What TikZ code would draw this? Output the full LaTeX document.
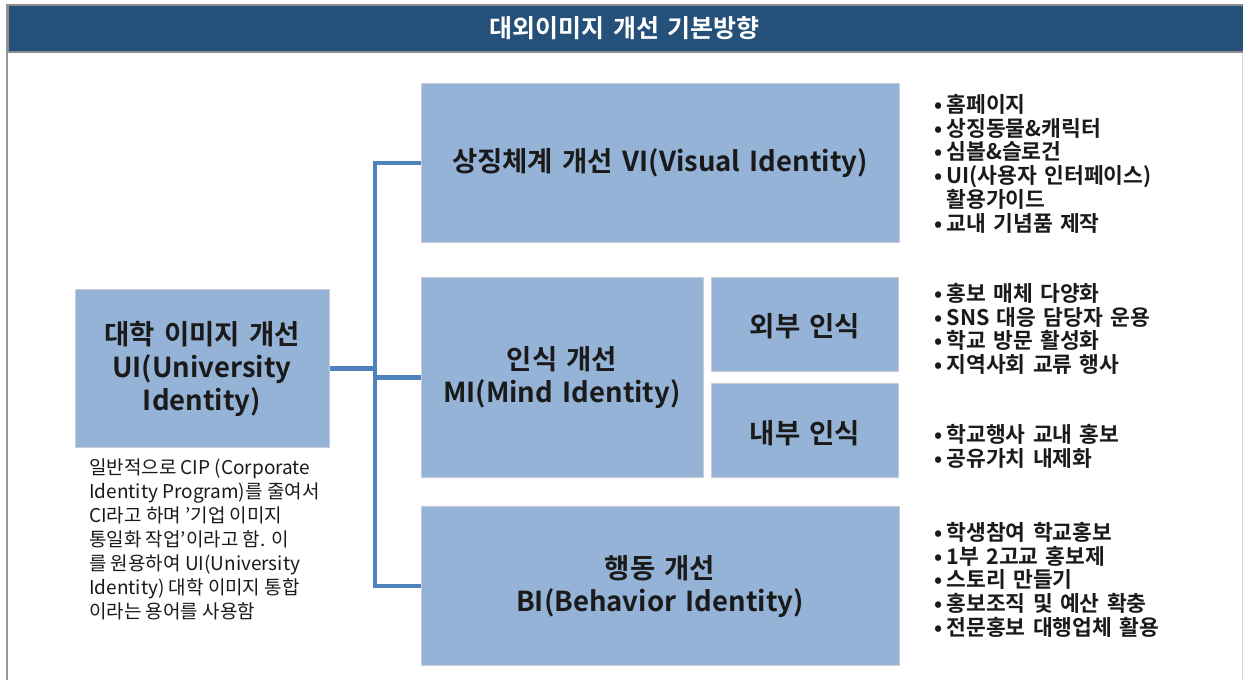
\documentclass[tikz,border=0pt]{standalone}
\usepackage{fontspec}
\setmainfont{Noto Sans CJK KR}
\newfontfamily\krb[WordSpace=1.5]{Noto Sans CJK KR Bold}
\definecolor{hdr}{HTML}{24507A}
\definecolor{boxfill}{HTML}{95B3D7}
\definecolor{boxline}{HTML}{C9CED6}
\definecolor{conncol}{HTML}{4F81BD}
\definecolor{txt}{HTML}{1A1A1A}
\newcommand{\bul}{•\hspace{0.2em}}
\begin{document}
\begin{tikzpicture}[x=1pt,y=-1pt,
  blk/.style={draw=boxline,line width=1pt,fill=boxfill,inner sep=0pt,anchor=north west},
  ttl/.style={font=\krb\fontsize{27.5}{33}\selectfont,text=txt,align=center,inner sep=0pt},
  lst/.style={font=\krb\fontsize{21.5}{23.8}\selectfont,text=txt,align=left,anchor=north west,inner sep=0pt},
  conn/.style={draw=conncol,line width=4.5pt,line join=miter}]
\useasboundingbox (0,0) rectangle (1243,680);
% frame
\fill[white] (0,0) rectangle (1243,680);
\draw[draw=gray!80,line width=1.5pt] (7,4) -- (7,680);
\draw[draw=gray!30,line width=1pt] (1242,50) -- (1242,680);
\node[fill=hdr,draw=gray!90,line width=1.5pt,minimum width=1236,minimum height=47,anchor=north west,inner sep=0pt] (hd) at (7,4) {};
\node[font=\krb\fontsize{25}{28}\selectfont,text=white] (hdt) at (625,28) {대외이미지 개선 기본방향};
% boxes
\node[blk,minimum width=254,minimum height=158] (ui) at (75,289) {};
\node[blk,minimum width=478,minimum height=159] (vi) at (421,83) {};
\node[blk,minimum width=282,minimum height=200] (mi) at (421,277) {};
\node[blk,minimum width=187,minimum height=94] (ext) at (711,277) {};
\node[blk,minimum width=187,minimum height=94] (int) at (711,383) {};
\node[blk,minimum width=478,minimum height=159] (bi) at (421,506) {};
% titles
\node[ttl] (uit) at (202,369) {대학 이미지 개선\\UI(University\\Identity)};
\node[ttl] (vit) at (660,163) {상징체계 개선 VI(Visual Identity)};
\node[ttl] (mit) at (562,378) {인식 개선\\MI(Mind Identity)};
\node[ttl] (extt) at (805,326) {외부 인식};
\node[ttl] (intt) at (805,433) {내부 인식};
\node[ttl] (bit) at (660,587) {행동 개선\\BI(Behavior Identity)};
% connectors
\coordinate (tx) at (375,300);
\draw[conn] (vi.west) -- (vi.west -| tx) -- (bi.west -| tx) -- (bi.west);
\draw[conn] (ui.east) -- (ui.east -| tx);
\draw[conn] (mi.west -| tx) -- (mi.west);
% lists
\node[lst] (l1) at (934,94) {\bul 홈페이지\\\bul 상징동물\&캐릭터\\\bul 심볼\&슬로건\\\bul UI(사용자 인터페이스)\\\hphantom{\bul}활용가이드\\\bul 교내 기념품 제작};
\node[lst] (l2) at (934,283) {\bul 홍보 매체 다양화\\\bul SNS 대응 담당자 운용\\\bul 학교 방문 활성화\\\bul 지역사회 교류 행사};
\node[lst] (l3) at (934,424) {\bul 학교행사 교내 홍보\\\bul 공유가치 내제화};
\node[lst] (l4) at (934,522) {\bul 학생참여 학교홍보\\\bul 1부 2고교 홍보제\\\bul 스토리 만들기\\\bul 홍보조직 및 예산 확충\\\bul 전문홍보 대행업체 활용};
% description
\node[font=\fontsize{19}{24}\selectfont,text=txt,align=left,anchor=north west,inner sep=0pt] (desc) at (89,459) {일반적으로 CIP (Corporate\\Identity Program)를 줄여서\\CI라고 하며 ’기업 이미지\\통일화 작업’이라고 함. 이\\를 원용하여 UI(University\\Identity) 대학 이미지 통합\\이라는 용어를 사용함};
\end{tikzpicture}
\end{document}
